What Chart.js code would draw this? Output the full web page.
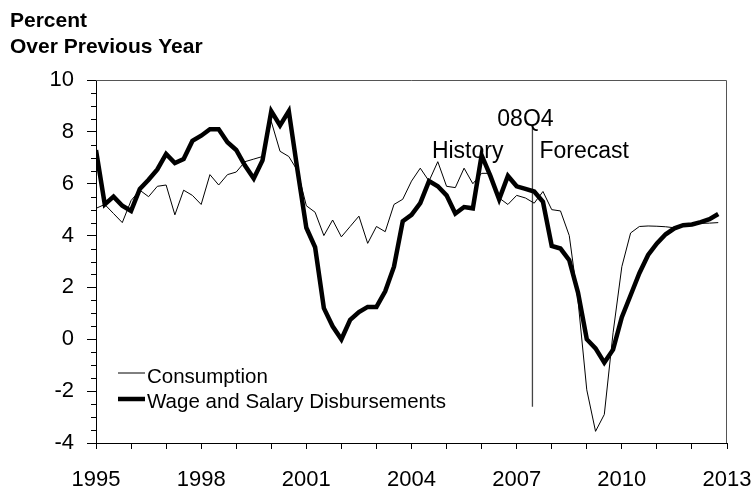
<!DOCTYPE html>
<html>
<head>
<meta charset="utf-8">
<script src="https://cdn.jsdelivr.net/npm/chart.js@4.4.1/dist/chart.umd.min.js"></script>
<style>
  html, body { margin: 0; padding: 0; background: #fff; }
</style>
</head>
<body>
<canvas id="chartWage" width="755" height="494"></canvas>
<script>
// quarterly observations, 1995Q1 .. 2012Q4
var firstYear = 1995;
var lastYear = 2012;
var quarters = [];
for (var yr = firstYear; yr <= lastYear; yr++) {
    for (var q = 0; q < 4; q++) quarters.push(yr + q / 4);
}

var consumption = [
    5.05, 5.2, 4.85, 4.5, 5.35, 5.75, 5.5, 5.9, 5.95, 4.8, 5.75, 5.55,
    5.2, 6.35, 5.95, 6.35, 6.45, 6.85, 6.95, 7.05, 8.4, 7.25, 7.05, 6.5,
    5.15, 4.9, 4.0, 4.6, 3.95, 4.35, 4.75, 3.7, 4.35, 4.15, 5.2, 5.4,
    6.1, 6.6, 6.1, 6.85, 5.9, 5.85, 6.6, 6.0, 6.4, 6.4, 5.45, 5.2,
    5.55, 5.45, 5.25, 5.7, 5.0, 4.95, 4.0, 1.5, -1.95, -3.55, -2.9, 0.25,
    2.8, 4.1, 4.35, 4.37, 4.36, 4.34, 4.3, 4.37, 4.43, 4.47, 4.48, 4.5
];

var wages = [
    7.3, 5.2, 5.5, 5.15, 4.95, 5.8, 6.15, 6.55, 7.15, 6.8, 6.95, 7.65,
    7.85, 8.1, 8.1, 7.6, 7.3, 6.7, 6.2, 6.9, 8.8, 8.25, 8.8, 6.5,
    4.3, 3.55, 1.2, 0.5, 0.0, 0.75, 1.05, 1.25, 1.25, 1.85, 2.8, 4.55,
    4.8, 5.25, 6.1, 5.9, 5.55, 4.85, 5.1, 5.05, 7.1, 6.3, 5.4, 6.3,
    5.9, 5.8, 5.7, 5.3, 3.6, 3.5, 3.05, 1.8, 0.0, -0.35, -0.9, -0.4,
    0.85, 1.7, 2.55, 3.25, 3.7, 4.05, 4.28, 4.4, 4.43, 4.52, 4.63, 4.83
];

var yearLabels = [1995, 1998, 2001, 2004, 2007, 2010, 2013];

// history / forecast divider (08Q4)
var dividerX = 2007.45;
var dividerY = [-2.6, 8.15];

var FONT = "'Liberation Sans', Arial, sans-serif";

function toPoints(vals) {
    return vals.map(function (v, i) { return { x: quarters[i], y: v }; });
}

var extras = {
    id: 'extras',
    afterDraw: function (chart) {
        var ctx = chart.ctx;
        var a = chart.chartArea;
        var xs = chart.scales.x, ys = chart.scales.y;
        ctx.save();

        // top and right frame
        ctx.strokeStyle = '#555';
        ctx.lineWidth = 1;
        ctx.beginPath();
        ctx.moveTo(a.left, a.top + 0.5);
        ctx.lineTo(a.right - 0.5, a.top + 0.5);
        ctx.lineTo(a.right - 0.5, a.bottom);
        ctx.stroke();

        // minor y ticks every 0.5
        ctx.strokeStyle = '#000';
        ctx.beginPath();
        for (var v = -4; v <= 10; v += 0.5) {
            if (v % 2 === 0) continue;
            var py = Math.round(ys.getPixelForValue(v)) + 0.5;
            ctx.moveTo(a.left - 5, py);
            ctx.lineTo(a.left, py);
        }
        ctx.stroke();

        ctx.fillStyle = '#000';
        ctx.textBaseline = 'alphabetic';

        // heading
        ctx.font = 'bold 21px ' + FONT;
        ctx.textAlign = 'left';
        ctx.fillText('Percent', 10, 27);
        ctx.fillText('Over Previous Year', 10, 53);

        // divider labels
        var lx = xs.getPixelForValue(dividerX);
        ctx.font = '23px ' + FONT;
        ctx.textAlign = 'center';
        ctx.fillText('08Q4', lx - 7, 126);
        ctx.textAlign = 'right';
        ctx.fillText('History', lx - 29, 158);
        ctx.textAlign = 'left';
        ctx.fillText('Forecast', lx + 7, 157.5);

        // legend
        var items = [
            { ds: chart.data.datasets[1], y: 373, base: 382.5 },
            { ds: chart.data.datasets[0], y: 399, base: 407.5 }
        ];
        ctx.font = '20.5px ' + FONT;
        items.forEach(function (it) {
            ctx.strokeStyle = it.ds.borderColor;
            ctx.lineWidth = it.ds.borderWidth;
            ctx.beginPath();
            ctx.moveTo(118, it.y);
            ctx.lineTo(145, it.y);
            ctx.stroke();
            ctx.fillText(it.ds.label, 147, it.base);
        });
        ctx.restore();
    }
};

var ctw = document.getElementById('chartWage');
var chart = new Chart(ctw, {
    type: 'line',
    data: {
        datasets: [{
            label: 'Wage and Salary Disbursements',
            data: toPoints(wages),
            borderColor: '#000',
            borderWidth: 4.5,
            pointRadius: 0,
            tension: 0
        }, {
            label: 'Consumption',
            data: toPoints(consumption),
            borderColor: '#000',
            borderWidth: 1,
            pointRadius: 0,
            tension: 0
        }, {
            label: '08Q4',
            data: [{ x: dividerX, y: dividerY[0] }, { x: dividerX, y: dividerY[1] }],
            borderColor: '#444',
            borderWidth: 1.3,
            pointRadius: 0
        }]
    },
    options: {
        responsive: false,
        animation: false,
        layout: { padding: { top: 80, right: 28, left: 0, bottom: 0 } },
        plugins: {
            legend: { display: false },
            tooltip: { enabled: false },
            title: { display: false }
        },
        scales: {
            x: {
                type: 'linear',
                min: 1995,
                max: 2013,
                afterFit: function (s) { s.height = 51; },
                border: { color: '#000', width: 1 },
                grid: { drawOnChartArea: false, tickLength: 6, color: '#000' },
                ticks: {
                    stepSize: 1,
                    autoSkip: false,
                    maxRotation: 0,
                    padding: 0,
                    color: '#000',
                    font: { family: FONT, size: 22, lineHeight: 2.8 },
                    callback: function (v) { return yearLabels.indexOf(v) >= 0 ? String(v) : ''; }
                }
            },
            y: {
                min: -4,
                max: 10,
                afterFit: function (s) { s.width = 96; },
                border: { color: '#000', width: 1 },
                grid: { drawOnChartArea: false, tickLength: 9, color: '#000' },
                ticks: {
                    stepSize: 2,
                    padding: 13,
                    color: '#000',
                    font: { family: FONT, size: 22 }
                }
            }
        }
    },
    plugins: [extras]
});
</script>
</body>
</html>
